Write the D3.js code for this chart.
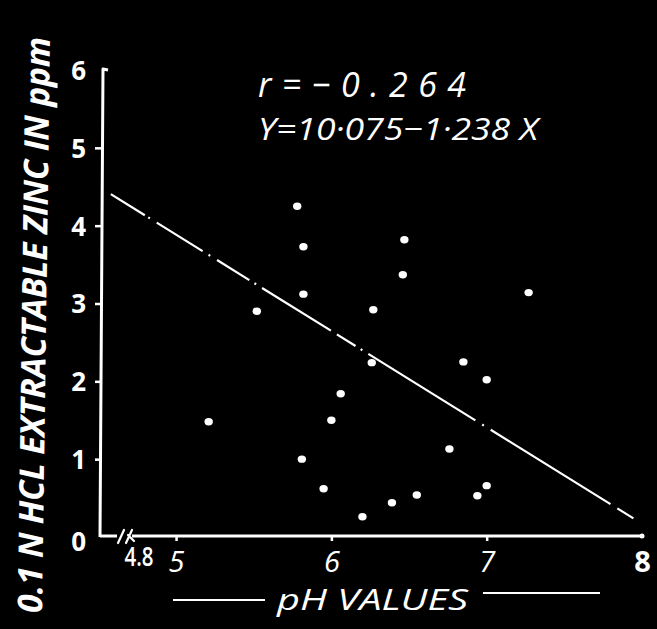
<!DOCTYPE html>
<html>
<head>
<meta charset="utf-8">
<script src="https://cdn.jsdelivr.net/npm/d3@7"></script>
<style>
  html, body { margin: 0; padding: 0; background: #000; }
  svg { display: block; }
</style>
</head>
<body>
<script>
// Soil samples: pH against 0.1 N HCl extractable zinc (ppm)
const phValues = [5.21, 5.52, 5.78, 5.82, 5.82, 6.27, 6.26, 6.06, 6.00, 5.81, 5.95,
                  6.20, 6.39, 6.55, 6.76, 6.94, 7.00, 7.00, 6.85, 6.47, 6.46, 7.27];
const zincPpm  = [1.48, 2.90, 4.25, 3.73, 3.12, 2.92, 2.24, 1.84, 1.50, 1.00, 0.62,
                  0.26, 0.44, 0.54, 1.13, 0.53, 0.66, 2.02, 2.25, 3.82, 3.37, 3.14];

const yTicks = [0, 1, 2, 3, 4, 5, 6];
const xTicks = [5, 6, 7, 8];
const xBreakLabel = "4.8";

// Regression fit Y = a + bX and correlation
const intercept = 10.075;
const slope = -1.238;
const corrText = "r=\u22120.264";
const eqText = "Y=10\u00B7075\u22121\u00B7238 X";
const fitRange = [4.58, 7.97];

const yTitle = "0.1 N HCL EXTRACTABLE ZINC IN ppm";
const xTitle = "pH VALUES";

const W = 657, H = 629;
const svg = d3.select("body").append("svg").attr("width", W).attr("height", H)
  .style("background", "#000");

const x = d3.scaleLinear().domain([4.8, 8]).range([145, 642]);
const y = d3.scaleLinear().domain([0, 6]).range([537, 70]);
const axisX = 101;

const ink = "#fff";
const handFont = "'Open Sans', 'DejaVu Sans', sans-serif";

// ---- y axis ----
const gy = svg.append("g").attr("transform", `translate(${axisX},0)`)
  .call(d3.axisLeft(y).tickValues(yTicks).tickSize(6).tickPadding(9).tickFormat(d3.format("d")));
gy.select(".domain").remove();
gy.selectAll(".tick line").attr("stroke", ink).attr("stroke-width", 2.5)
  .filter(d => d === 0 || d === 6).remove();
gy.selectAll(".tick text")
  .attr("fill", ink)
  .style("font-family", handFont)
  .style("font-weight", 700)
  .style("font-size", "26px")
  .attr("dy", d => d === 0 ? "0.5em" : "0.36em");

// hand-ruled spine with the small hook at the top
svg.append("path")
  .attr("d", `M${axisX - 1},${y(0)} L${axisX + 2},${y(6) - 1} L${axisX + 7},${y(6)}`)
  .attr("fill", "none").attr("stroke", ink).attr("stroke-width", 3)
  .attr("stroke-linejoin", "round");

// ---- x axis ----
const gx = svg.append("g").attr("transform", `translate(0,${y(0) - 1})`)
  .call(d3.axisBottom(x).tickValues(xTicks).tickSize(5).tickPadding(8).tickFormat(d3.format("d")));
gx.select(".domain").remove();
gx.selectAll(".tick line").attr("stroke", ink).attr("stroke-width", 2.5)
  .filter(d => d === 8).remove();
gx.selectAll(".tick text")
  .attr("fill", ink)
  .style("font-family", handFont)
  .style("font-style", d => d === 8 ? "normal" : "italic")
  .style("font-weight", d => d === 8 ? 700 : 500)
  .style("font-size", "29px")
  .attr("dy", "0.78em");

// axis line with the scale break near the origin
const ay = y(0) - 1;
svg.append("path")
  .attr("d", `M${axisX - 1},${ay} H117 M132,${ay} H${x(8)}`)
  .attr("fill", "none").attr("stroke", ink).attr("stroke-width", 3);
svg.append("path")
  .attr("d", `M118,${ay + 7} L124,${ay - 6} M126,${ay + 7} L132,${ay - 6} M128,${ay - 1} L134,${ay + 5}`)
  .attr("fill", "none").attr("stroke", ink).attr("stroke-width", 2.2).attr("stroke-linecap", "round");
svg.append("circle").attr("cx", x(8)).attr("cy", ay).attr("r", 2.5).attr("fill", ink);

svg.append("text")
  .attr("x", x(4.8) - 6).attr("y", ay + 30)
  .attr("text-anchor", "middle")
  .attr("fill", ink)
  .attr("textLength", 29).attr("lengthAdjust", "spacingAndGlyphs")
  .style("font-family", handFont)
  .style("font-weight", 600)
  .style("font-size", "27px")
  .text(xBreakLabel);

// ---- regression line (dash-dot) ----
const fitLine = d3.line().x(d => x(d)).y(d => y(intercept + slope * d));
svg.append("path")
  .datum(fitRange)
  .attr("d", fitLine)
  .attr("fill", "none").attr("stroke", ink).attr("stroke-width", 2.2)
  .attr("stroke-dasharray", "40,4,2,8,54,7,2,8,38,6,2,7,81,7,22,6,2,7,126,8,2,8,141,8,19,40");

// ---- sample points ----
svg.append("g").selectAll("ellipse")
  .data(d3.zip(phValues, zincPpm))
  .join("ellipse")
  .attr("cx", d => x(d[0]))
  .attr("cy", d => y(d[1]))
  .attr("rx", 4.2).attr("ry", 3.7)
  .attr("fill", ink);

// ---- statistics text ----
svg.append("text")
  .attr("x", 258).attr("y", 97)
  .attr("fill", ink)
  .attr("textLength", 208).attr("lengthAdjust", "spacing")
  .style("font-family", handFont).style("font-style", "italic")
  .style("font-weight", 500).style("font-size", "34px")
  .text(corrText);
svg.append("text")
  .attr("x", 258).attr("y", 140)
  .attr("fill", ink)
  .attr("textLength", 280).attr("lengthAdjust", "spacingAndGlyphs")
  .style("font-family", handFont).style("font-style", "italic")
  .style("font-weight", 500).style("font-size", "31px")
  .text(eqText);

// ---- axis titles ----
svg.append("text")
  .attr("transform", "translate(46,325) rotate(-89.2)")
  .attr("text-anchor", "middle")
  .attr("fill", ink)
  .attr("textLength", 576).attr("lengthAdjust", "spacingAndGlyphs")
  .style("font-family", handFont).style("font-style", "italic")
  .style("font-weight", 700).style("font-size", "34px")
  .text(yTitle);

svg.append("text")
  .attr("x", 277).attr("y", 610)
  .attr("fill", ink)
  .attr("textLength", 191).attr("lengthAdjust", "spacingAndGlyphs")
  .style("font-family", handFont).style("font-style", "italic")
  .style("font-weight", 500).style("font-size", "29px")
  .text(xTitle);

svg.append("path")
  .attr("d", "M173,600 H265 M483,593 H600")
  .attr("fill", "none").attr("stroke", ink).attr("stroke-width", 2.2);
</script>
</body>
</html>
